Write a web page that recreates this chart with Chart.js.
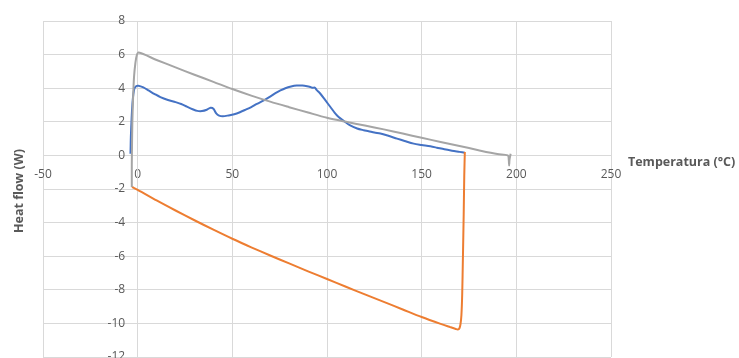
<!DOCTYPE html>
<html>
<head>
<meta charset="utf-8">
<script src="https://cdn.jsdelivr.net/npm/chart.js@4/dist/chart.umd.min.js"></script>
<style>
html,body{margin:0;padding:0;background:#fff;overflow:hidden;}
#wrap{width:739px;height:372px;}
</style>
</head>
<body>
<div id="wrap"><canvas id="c" width="739" height="372"></canvas></div>
<script>
// ---- data ----
const xTickLabels = [-50, 0, 50, 100, 150, 200, 250];
const yTickLabels = [-12, -10, -8, -6, -4, -2, 0, 2, 4, 6, 8];

const blueX = [-3.8,-3.7,-3.6,-3.2,-2.6,-1.8,-0.8,0.3,3,6,9,12,16,20,23,26,29,31.5,34,36.5,38.5,40,41.5,43,45,48,51,54,57,60,63,66.6,70,73,75.4,78,81,84,87,89.5,91.2,92.5,93.5,94.5,96.5,99,101.8,104,106,108.9,112,115.9,119.4,122,125,128.2,132,137,141,145.8,150,154.6,158,162,166,170,172.8];
const blueY = [0.1,0.6,1.1,2.2,3.3,3.95,4.12,4.15,4.05,3.85,3.65,3.47,3.3,3.17,3.06,2.9,2.75,2.65,2.64,2.72,2.84,2.78,2.5,2.37,2.33,2.38,2.45,2.57,2.72,2.88,3.07,3.27,3.5,3.72,3.87,4.0,4.1,4.16,4.16,4.12,4.07,4.02,4.04,3.9,3.67,3.3,2.88,2.55,2.3,2.05,1.8,1.6,1.5,1.44,1.36,1.3,1.18,1.0,0.86,0.7,0.62,0.54,0.46,0.36,0.28,0.21,0.16];

const orangeX = [-3.0,0,10,20,30,40,50,60,70,80,90,100,110,120,130,140,150,160,165,168,169.1,169.9,170.5,171.0,171.4,171.8,172.2,172.5,172.8];
const orangeY = [-1.88,-2.05,-2.68,-3.28,-3.86,-4.42,-4.96,-5.47,-5.96,-6.43,-6.9,-7.36,-7.82,-8.27,-8.72,-9.17,-9.62,-10.03,-10.22,-10.33,-10.36,-10.3,-10.05,-9.5,-8.3,-6.0,-3.5,-1.2,0.2];

const grayX = [-3.1,-3.1,-3.0,-2.8,-2.4,-1.9,-1.2,-0.5,0.5,10,20,30,40,50,60,70,80,90,100,110,120,130,140,150,160,170,180,190,195.5,196,196.2,196.4,197];
const grayY = [-1.88,-0.5,0.5,2.0,3.5,4.7,5.5,5.95,6.12,5.68,5.24,4.8,4.38,3.95,3.56,3.2,2.87,2.55,2.24,2.0,1.78,1.55,1.3,1.05,0.8,0.56,0.31,0.08,0.0,-0.25,-0.6,-0.25,0.1];

const xTitle = 'Temperatura (°C)';
const yTitle = 'Heat flow (W)';

function pts(xs, ys){ return xs.map((x,i)=>({x:x, y:ys[i]})); }

const textColor = '#595959';
const gridColor = '#d9d9d9';
const fontFam = '"Open Sans", "Liberation Sans", sans-serif';

const titlePlugin = {
  id: 'axisTitles',
  afterDraw(chart){
    const ctx = chart.ctx;
    const ca = chart.chartArea;
    const y0 = chart.scales.y.getPixelForValue(0);
    ctx.save();
    ctx.fillStyle = textColor;
    ctx.font = 'bold 12.5px ' + fontFam;
    ctx.textAlign = 'left';
    ctx.textBaseline = 'middle';
    ctx.fillText(xTitle, ca.right + 17, y0 + 7);
    ctx.translate(19, (ca.top + ca.bottom) / 2 + 2);
    ctx.rotate(-Math.PI/2);
    ctx.textAlign = 'center';
    ctx.fillText(yTitle, 0, 0);
    ctx.restore();
  }
};

const common = {showLine:true, pointRadius:0, pointHoverRadius:0, borderWidth:2, fill:false, tension:0.3};

new Chart(document.getElementById('c'), {
  type: 'scatter',
  data: {
    datasets: [
      Object.assign({label:'gray', data: pts(grayX, grayY), borderColor:'#a5a5a5'}, common),
      Object.assign({label:'orange', data: pts(orangeX, orangeY), borderColor:'#ed7d31'}, common),
      Object.assign({label:'blue', data: pts(blueX, blueY), borderColor:'#4472c4'}, common)
    ]
  },
  options: {
    responsive: false,
    animation: false,
    devicePixelRatio: 1,
    layout: {padding: {left: 43, top: 21, right: 128, bottom: 15}},
    plugins: {legend:{display:false}, tooltip:{enabled:false}},
    scales: {
      x: {
        type: 'linear',
        position: {y: 0},
        min: -50, max: 250,
        afterBuildTicks(s){ s.ticks = xTickLabels.map(v=>({value:v})); },
        grid: {color: gridColor, lineWidth: 1, drawTicks: false},
        border: {color: gridColor, width: 1},
        ticks: {color: textColor, font: {family: fontFam, size: 12}, padding: 12, maxRotation: 0}
      },
      y: {
        type: 'linear',
        position: {x: 0},
        min: -12, max: 8,
        afterBuildTicks(s){ s.ticks = yTickLabels.map(v=>({value:v})); },
        grid: {color: gridColor, lineWidth: 1, drawTicks: false},
        border: {color: gridColor, width: 1},
        ticks: {color: textColor, font: {family: fontFam, size: 12}, padding: 0,
                callback: (v) => v + '    '}
      }
    }
  },
  plugins: [titlePlugin]
});
</script>
</body>
</html>
